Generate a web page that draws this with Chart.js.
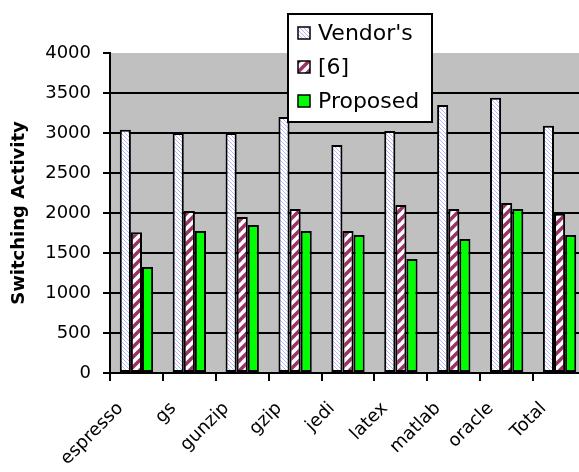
<!DOCTYPE html>
<html>
<head>
<meta charset="utf-8">
<script src="https://cdn.jsdelivr.net/npm/chart.js@4"></script>
<style>
  html, body { margin: 0; padding: 0; background: #fff; }
  #wrap { width: 579px; height: 472px; overflow: hidden; position: relative; }
  #chart { display: block; }
</style>
</head>
<body>
<div id="wrap"><canvas id="chart" width="600" height="472"></canvas></div>
<script>
const categories = ["espresso", "gs", "gunzip", "gzip", "jedi", "latex", "matlab", "oracle", "Total"];
const vendorValues = [3040, 3000, 3000, 3200, 2850, 3025, 3350, 3440, 3090];
const ref6Values = [1760, 2025, 1950, 2050, 1775, 2100, 2050, 2125, 1990];
const proposedValues = [1325, 1775, 1850, 1775, 1725, 1425, 1675, 2050, 1725];
const seriesNames = ["Vendor's", "[6]", "Proposed"];
const yTicks = [0, 500, 1000, 1500, 2000, 2500, 3000, 3500, 4000];

document.addEventListener("DOMContentLoaded", function () {
    Chart.defaults.font.family = "'DejaVu Sans', sans-serif";
    Chart.defaults.color = "#000";

    // hatch fills like the old Excel patterns
    function makePattern(size, draw) {
        const c = document.createElement("canvas");
        c.width = size;
        c.height = size;
        const g = c.getContext("2d");
        g.fillStyle = "#fff";
        g.fillRect(0, 0, size, size);
        draw(g, size);
        return g.createPattern(c, "repeat");
    }

    const vendorFill = makePattern(4, (g, s) => {
        g.fillStyle = "#b4b4ff";
        for (let i = 0; i < s; i++) g.fillRect(i, i, 1, 1);
    });
    const ref6Fill = makePattern(10, (g, s) => {
        g.strokeStyle = "#993366";
        g.lineWidth = 3.5;
        [[-s, s, s, -s], [0, s, s, 0], [0, 2 * s, 2 * s, 0]].forEach(([x1, y1, x2, y2]) => {
            g.beginPath();
            g.moveTo(x1, y1);
            g.lineTo(x2, y2);
            g.stroke();
        });
    });

    const plotBackground = {
        id: "plotBackground",
        beforeDraw(chart) {
            const { ctx, chartArea } = chart;
            ctx.save();
            ctx.fillStyle = "#c0c0c0";
            ctx.fillRect(chartArea.left, chartArea.top, chartArea.right - chartArea.left, chartArea.bottom - chartArea.top);
            ctx.restore();
        },
    };

    const boxLegend = {
        id: "boxLegend",
        afterDraw(chart) {
            const ctx = chart.ctx;
            const box = { x: 288, y: 14, w: 144, h: 108 };
            ctx.save();
            ctx.fillStyle = "#fff";
            ctx.fillRect(box.x, box.y, box.w, box.h);
            ctx.lineWidth = 2;
            ctx.strokeStyle = "#000";
            ctx.strokeRect(box.x, box.y, box.w, box.h);
            ctx.font = "22px 'DejaVu Sans'";
            ctx.textBaseline = "middle";
            chart.data.datasets.forEach((ds, i) => {
                const cy = box.y + 19 + i * 34;
                ctx.fillStyle = ds.backgroundColor;
                ctx.fillRect(298, cy - 6, 12, 12);
                ctx.lineWidth = 1.5;
                ctx.strokeStyle = "#000";
                ctx.strokeRect(298, cy - 6, 12, 12);
                ctx.fillStyle = "#000";
                ctx.fillText(ds.label, 318, cy + 1);
            });
            ctx.restore();
        },
    };

    const barStyle = { borderColor: "#000", borderWidth: 2, borderSkipped: false, categoryPercentage: 0.63, barPercentage: 1.0 };

    new Chart(document.getElementById("chart"), {
        type: "bar",
        data: {
            labels: categories,
            datasets: [
                Object.assign({ label: seriesNames[0], data: vendorValues, backgroundColor: vendorFill }, barStyle),
                Object.assign({ label: seriesNames[1], data: ref6Values, backgroundColor: ref6Fill }, barStyle),
                Object.assign({ label: seriesNames[2], data: proposedValues, backgroundColor: "#00ff00" }, barStyle),
            ],
        },
        options: {
            responsive: false,
            animation: false,
            layout: { padding: { top: 53, right: 14, left: 0, bottom: 0 } },
            plugins: {
                legend: { display: false },
                tooltip: { enabled: false },
            },
            scales: {
                x: {
                    afterFit(scale) { scale.height = 99; },
                    grid: { drawOnChartArea: false, offset: true, color: "#000", lineWidth: 2, tickLength: 8 },
                    border: { color: "#000", width: 2 },
                    ticks: { minRotation: 45, maxRotation: 45, autoSkip: false, labelOffset: -16, padding: 17, font: { size: 18 } },
                },
                y: {
                    min: 0,
                    max: 4000,
                    afterFit(scale) { scale.width = 110; },
                    afterBuildTicks(scale) { scale.ticks = yTicks.map((v) => ({ value: v })); },
                    grid: {
                        color: (c) => (c.tick && c.tick.value === 4000 ? "rgba(0,0,0,0)" : "#000"),
                        tickColor: "#000",
                        lineWidth: 2,
                        tickLength: 7,
                    },
                    border: { color: "#000", width: 2 },
                    ticks: { padding: 12, font: { size: 18 }, callback: (v) => String(v) },
                    title: {
                        display: true,
                        text: "Switching Activity",
                        font: { size: 18, weight: "bold" },
                        padding: { top: 9, bottom: 0 },
                    },
                },
            },
        },
        plugins: [plotBackground, boxLegend],
    });
});
</script>
</body>
</html>
